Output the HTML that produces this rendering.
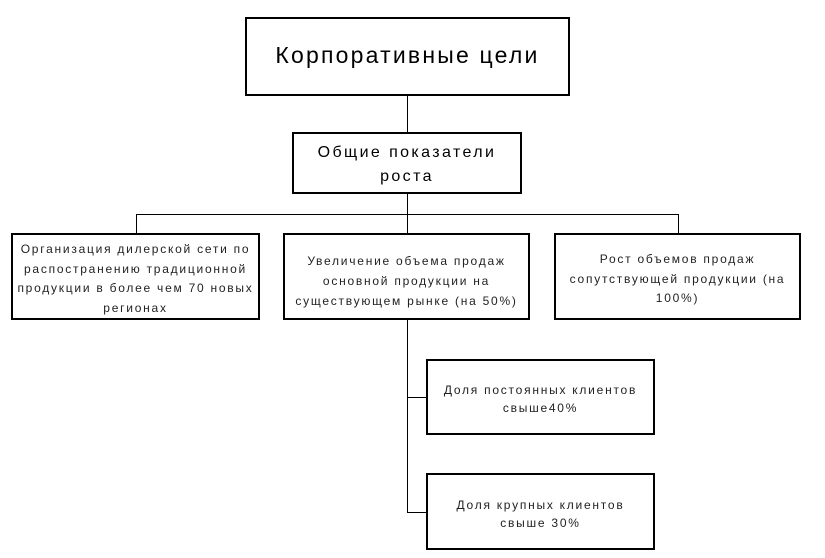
<!DOCTYPE html>
<html><head><meta charset="utf-8"><style>
body{margin:0;width:825px;height:558px;background:#fff;position:relative;overflow:hidden;font-family:"Liberation Sans",sans-serif}
.b{position:absolute;border:2px solid #000;box-sizing:border-box;background:#fff}
.l{position:absolute;background:#000}
.t{position:absolute;left:-10px;right:-10px;text-align:center;white-space:nowrap;color:#222;font-size:12px;letter-spacing:1.75px;line-height:14px}
</style></head><body>
<div class="l" style="left:407px;top:95px;width:1px;height:38px"></div>
<div class="l" style="left:407px;top:193px;width:1px;height:21px"></div>
<div class="l" style="left:136px;top:214px;width:543px;height:1px"></div>
<div class="l" style="left:136px;top:214px;width:1px;height:19px"></div>
<div class="l" style="left:407px;top:214px;width:1px;height:19px"></div>
<div class="l" style="left:678px;top:214px;width:1px;height:19px"></div>
<div class="l" style="left:407px;top:319px;width:1px;height:194px"></div>
<div class="l" style="left:407px;top:397px;width:20px;height:1px"></div>
<div class="l" style="left:407px;top:512px;width:20px;height:1px"></div>

<div class="b" style="left:245px;top:17px;width:325px;height:79px">
<div class="t" style="top:23px;font-size:23px;line-height:26px;letter-spacing:2.2px;color:#000">Корпоративные цели</div></div>

<div class="b" style="left:292px;top:132px;width:230px;height:62px">
<div class="t" style="top:7px;font-size:16px;line-height:24px;letter-spacing:2.4px;color:#000">Общие показатели<br>роста</div></div>

<div class="b" style="left:11px;top:233px;width:249px;height:87px">
<div class="t" style="top:5px;line-height:19.7px">Организация дилерской сети по<br>распостранению традиционной<br>продукции в более чем 70 новых<br>регионах</div></div>

<div class="b" style="left:283px;top:233px;width:247px;height:87px">
<div class="t" style="top:16px;line-height:20px">Увеличение объема продаж<br>основной продукции на<br>существующем рынке (на 50%)</div></div>

<div class="b" style="left:554px;top:233px;width:247px;height:87px">
<div class="t" style="top:15px;line-height:19.5px">Рост объемов продаж<br>сопутствующей продукции (на<br>100%)</div></div>

<div class="b" style="left:426px;top:359px;width:229px;height:76px">
<div class="t" style="top:20px;line-height:18px">Доля постоянных клиентов<br>свыше40%</div></div>

<div class="b" style="left:426px;top:473px;width:229px;height:77px">
<div class="t" style="top:21px;line-height:18px">Доля крупных клиентов<br>свыше 30%</div></div>
</body></html>
